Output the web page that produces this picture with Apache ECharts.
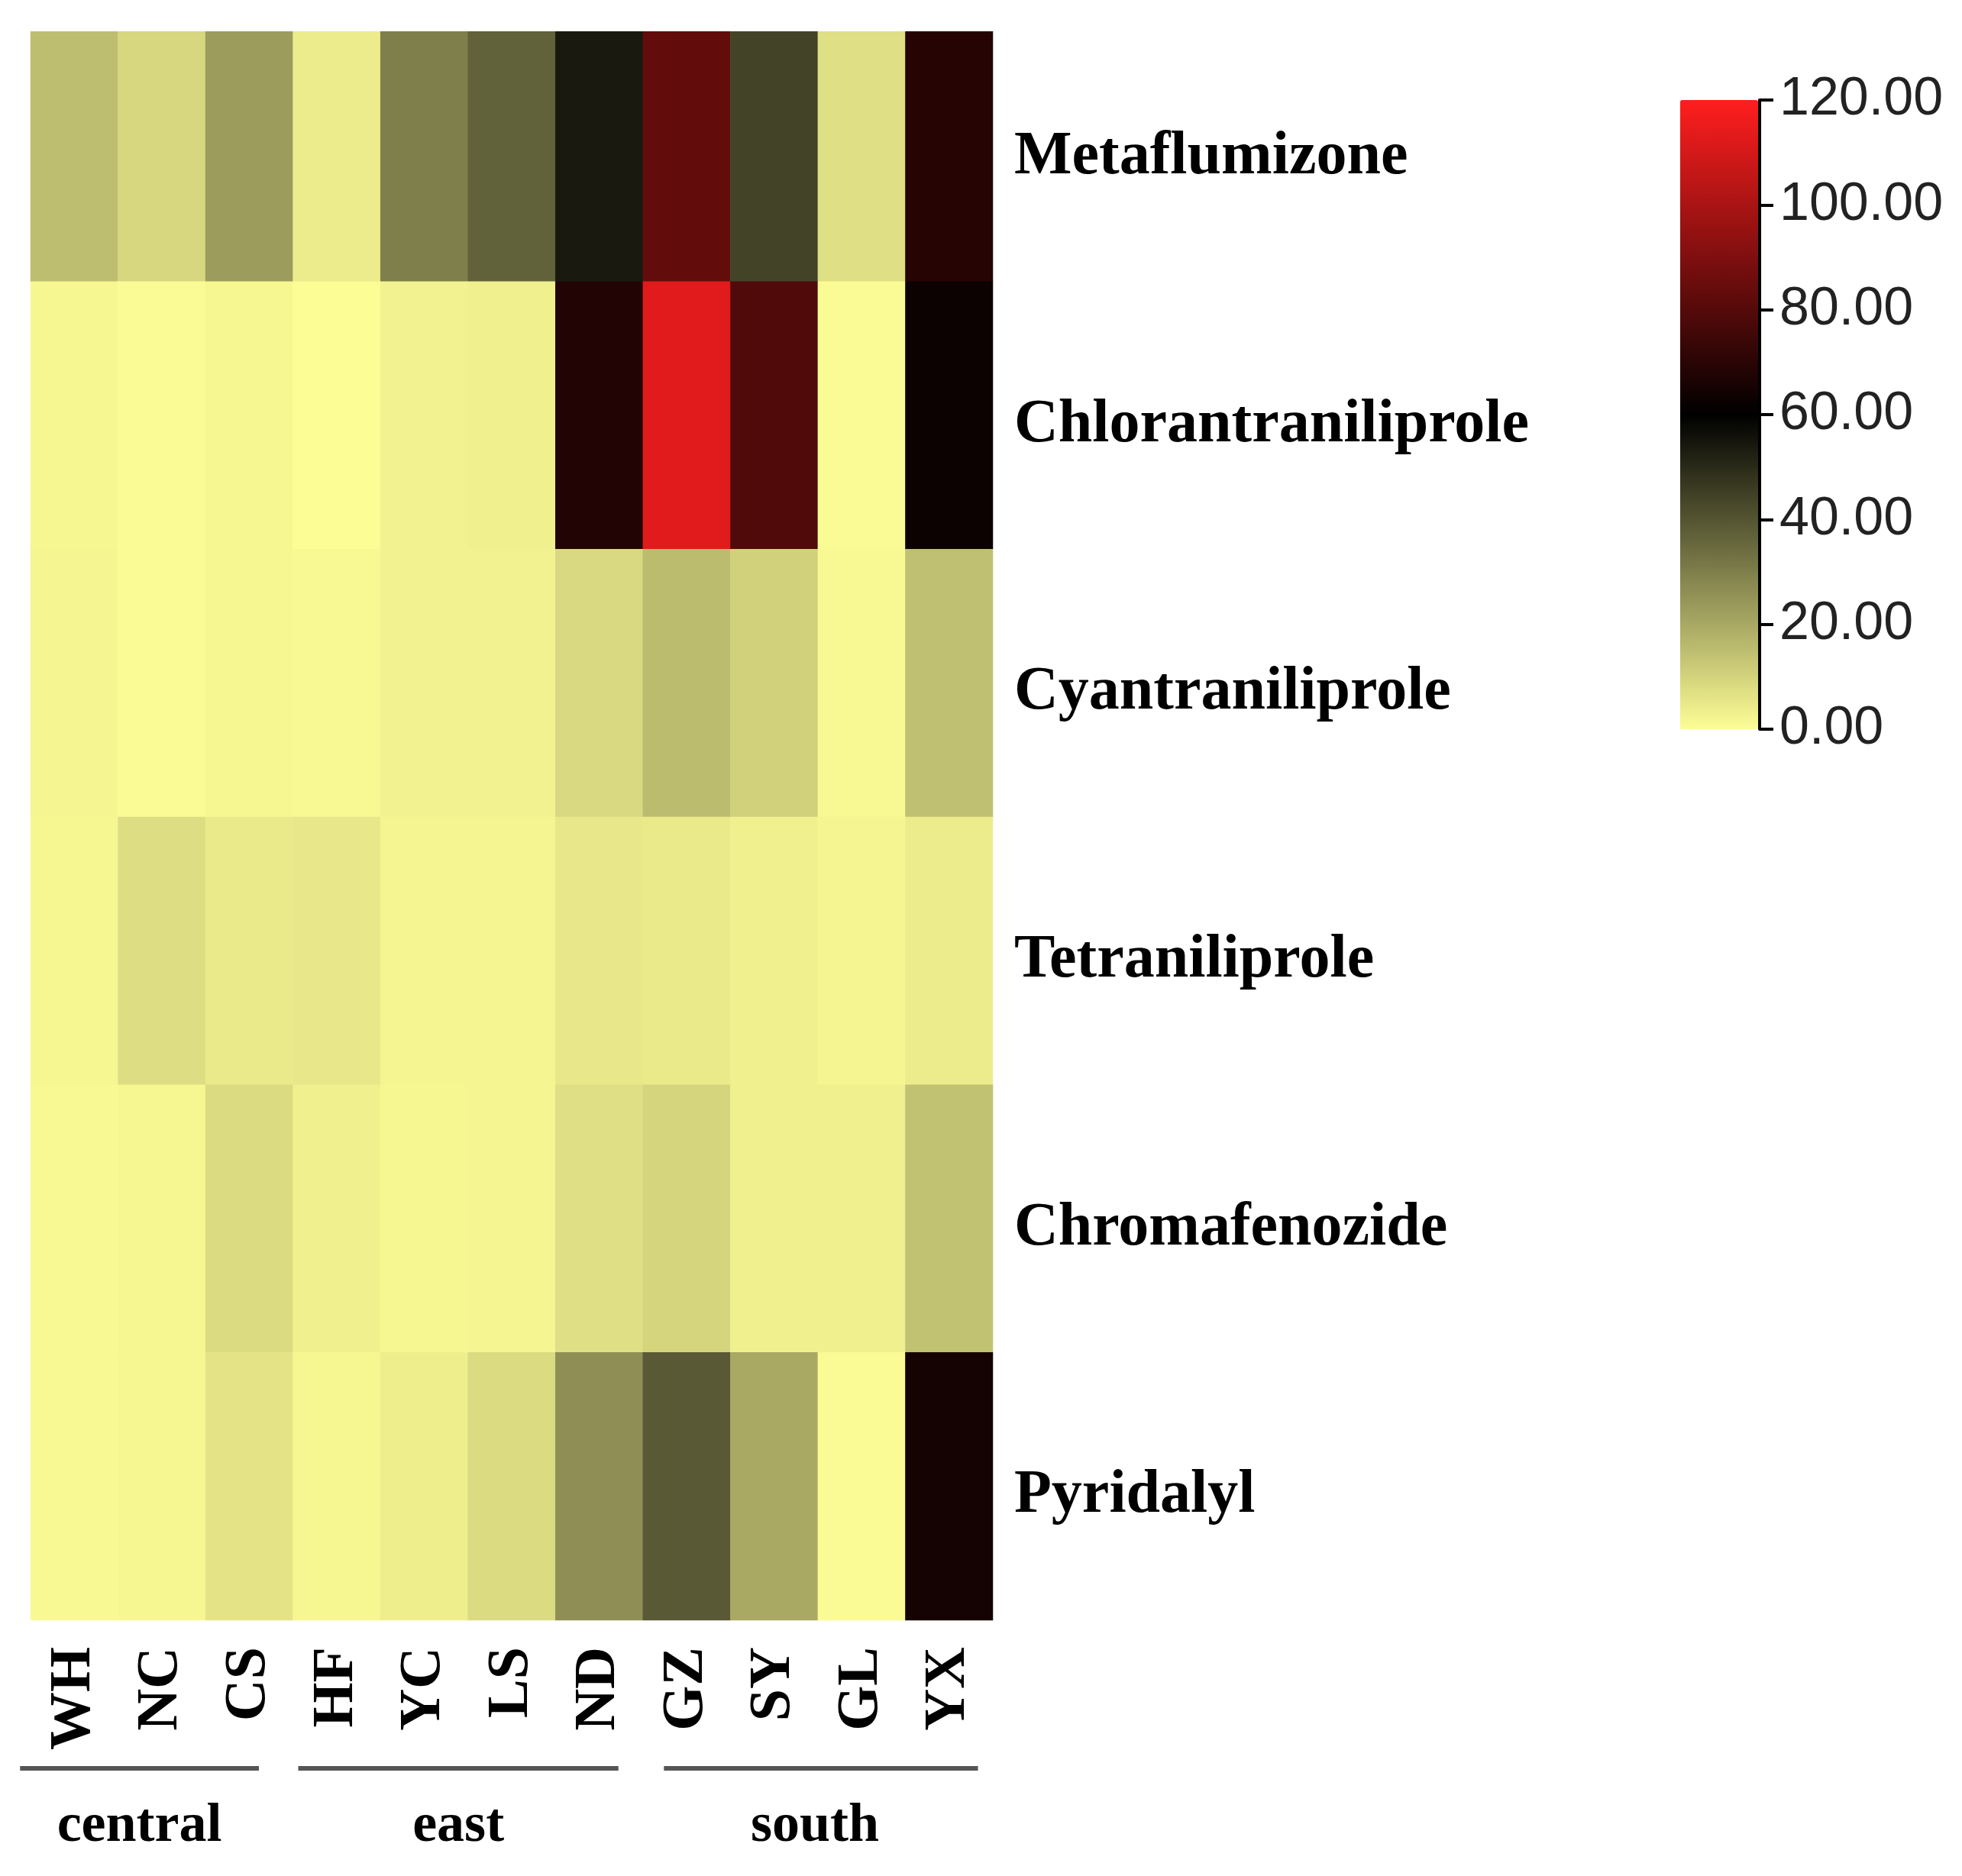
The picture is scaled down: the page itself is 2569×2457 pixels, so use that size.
<!DOCTYPE html>
<html><head><meta charset="utf-8">
<script src="https://cdn.jsdelivr.net/npm/echarts@6/dist/echarts.min.js"></script>
<style>html,body{margin:0;padding:0;background:#fff;} #c{width:2569px;height:2457px;}</style>
</head><body><div id="c"></div>
<script>
const sites = ['WH','NC','CS','HF','YC','LS','ND','GZ','SY','GL','YX'];
const compounds = ['Metaflumizone','Chlorantraniliprole','Cyantraniliprole','Tetraniliprole','Chromafenozide','Pyridalyl'];
const metaflumizone       = [15, 9, 23, 4, 30, 37, 54, 83, 44, 7, 69];
const chlorantraniliprole = [1.5, 0.5, 1.5, 0, 2.5, 3, 68, 113, 79, 0.5, 63];
const cyantraniliprole    = [2, 0.5, 1.5, 1, 2.5, 2.5, 8.5, 15.5, 10.5, 1, 14.5];
const tetraniliprole      = [1.5, 7.5, 4.5, 5, 2, 2, 5, 4.5, 3, 2, 4];
const chromafenozide      = [1, 1.5, 8, 3, 1.5, 2, 7, 9.5, 3, 3, 14];
const pyridalyl           = [1, 1.5, 6, 1.5, 3.5, 8, 26, 39, 20, 0.5, 65];
const scaleMin = 0, scaleMax = 120, scaleStep = 20;
const regions = [
  {name: 'central', from: 0, to: 2},
  {name: 'east', from: 3, to: 6},
  {name: 'south', from: 7, to: 10}
];

const rows = [metaflumizone, chlorantraniliprole, cyantraniliprole, tetraniliprole, chromafenozide, pyridalyl];
const data = [];
rows.forEach((r, yi) => r.forEach((v, xi) => data.push([xi, yi, v])));

const SERIF = '"Liberation Serif", "Times New Roman", serif';
const SANS = '"Liberation Sans", Arial, sans-serif';

const chart = echarts.init(document.getElementById('c'), null, {renderer: 'canvas'});
chart.setOption({
  animation: false,
  backgroundColor: '#fff',
  grid: [
    {left: 40, top: 18, width: 1260, height: 2104},
    {left: 2200, top: 131, width: 104, height: 824}
  ],
  xAxis: [
    {type: 'category', data: sites, gridIndex: 0, position: 'bottom',
     axisLine: {show: false}, axisTick: {show: false}, splitLine: {show: false},
     axisLabel: {rotate: 90, margin: 35, fontSize: 76, fontWeight: 'bold', fontFamily: SERIF, color: '#000'}},
    {type: 'value', gridIndex: 1, show: false, min: 0, max: 1}
  ],
  yAxis: [
    {type: 'category', data: compounds, gridIndex: 0, inverse: true, position: 'right',
     axisLine: {show: false}, axisTick: {show: false}, splitLine: {show: false},
     axisLabel: {margin: 28, formatter: v => '{a|' + v + '}',
       rich: {a: {fontSize: 80, fontWeight: 'bold', fontFamily: SERIF, color: '#000', padding: [26, 0, 0, 0]}}}},
    {type: 'value', gridIndex: 1, position: 'right', min: scaleMin, max: scaleMax, interval: scaleStep, z: 20,
     axisLine: {show: true, onZero: false, lineStyle: {color: '#000', width: 4}},
     axisTick: {show: true, inside: false, length: 18, lineStyle: {color: '#000', width: 4}},
     splitLine: {show: false},
     axisLabel: {margin: 26, fontSize: 70, fontFamily: SANS, color: '#222', formatter: v => v.toFixed(2)}}
  ],
  visualMap: {
    type: 'continuous', min: scaleMin, max: scaleMax, seriesIndex: 0,
    orient: 'vertical', align: 'left', left: 2200, top: 131, itemWidth: 102, itemHeight: 824,
    padding: 0, calculable: false, hoverLink: false, realtime: false, z: 2,
    textStyle: {fontSize: 0, color: 'transparent'},
    inRange: {color: ['#fdfd96', '#000000', '#ff1e1e']}
  },
  series: [{
    type: 'heatmap', xAxisIndex: 0, yAxisIndex: 0, data: data,
    itemStyle: {borderWidth: 0},
    emphasis: {disabled: true}
  }]
});

const colW = 1260 / sites.length;
const graphics = [{type: 'rect', left: 0, top: 0, z: 100, shape: {width: 1400, height: 41}, style: {fill: '#fff'}}];
regions.forEach((g, i) => {
  const x1 = chart.convertToPixel({xAxisIndex: 0}, sites[g.from]) - (0.62 - 0.18 * i) * colW;
  const x2 = chart.convertToPixel({xAxisIndex: 0}, sites[g.to]) + (0.11 + 0.11 * i) * colW;
  graphics.push({type: 'line', z: 100, shape: {x1: x1, y1: 2316, x2: x2, y2: 2316}, style: {stroke: '#555', lineWidth: 6}});
  graphics.push({type: 'text', z: 100, x: (x1 + x2) / 2 - (i === 2 ? 8 : 0), y: 2392,
    style: {text: g.name, fontSize: 72, fontWeight: 'bold', fontFamily: SERIF, fill: '#000', align: 'center', verticalAlign: 'middle'}});
});
chart.setOption({graphic: graphics});
</script></body></html>
